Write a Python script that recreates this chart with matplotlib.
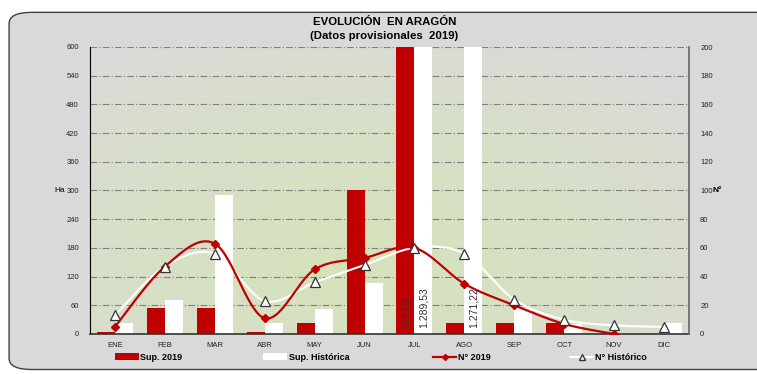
import numpy as np
import matplotlib
matplotlib.use("Agg")
import matplotlib.pyplot as plt
from matplotlib.patches import FancyBboxPatch, Patch
from matplotlib.lines import Line2D

plt.rcParams["font.family"] = ["Liberation Sans", "DejaVu Sans"]

months = ["ENE", "FEB", "MAR", "ABR", "MAY", "JUN", "JUL", "AGO", "SEP", "OCT", "NOV", "DIC"]
sup_2019 = [4, 54, 54, 4, 22, 300, 790.03, 22, 24, 22, 0, 0]
sup_hist = [22, 72, 290, 22, 52, 107, 1289.53, 1271.22, 55, 20, 3, 22]
n_2019 = [5, 47, 63, 11, 45, 53, 60, 35, 20, 7, 0]
n_hist = [13, 47, 56, 23, 36, 48, 60, 56, 24, 10, 6, 5]
bar_labels = {6: ["790,03", "1.289,53"], 7: [None, "1.271,22"]}

RED = "#c00000"


def smooth(x, y, n=30):
    # Excel-like smoothed line (Catmull-Rom through the points)
    x = np.asarray(x, float)
    y = np.asarray(y, float)
    px = np.concatenate([[x[0]], x, [x[-1]]])
    py = np.concatenate([[y[0]], y, [y[-1]]])
    xs, ys = [], []
    t = np.linspace(0, 1, n)
    for i in range(1, len(px) - 2):
        p0, p1, p2, p3 = (np.array([px[j], py[j]]) for j in (i - 1, i, i + 1, i + 2))
        c1 = p1 + (p2 - p0) / 6
        c2 = p2 - (p3 - p1) / 6
        pts = ((1 - t) ** 3)[:, None] * p1 + (3 * (1 - t) ** 2 * t)[:, None] * c1 \
            + (3 * (1 - t) * t ** 2)[:, None] * c2 + (t ** 3)[:, None] * p2
        xs.append(pts[:, 0])
        ys.append(pts[:, 1])
    return np.concatenate(xs), np.concatenate(ys)


fig = plt.figure(figsize=(7.57, 3.74), dpi=100)
fig.patch.set_facecolor("white")
frame = FancyBboxPatch((0.012, 0.012), 1.2, 0.955, boxstyle="round,pad=0,rounding_size=0.03",
                       transform=fig.transFigure, facecolor="#d9d9d9", edgecolor="#404040",
                       linewidth=1.0, zorder=-10)
fig.patches.append(frame)

ax = fig.add_axes([90 / 757, 1 - 334 / 374, 599 / 757, 287 / 374])
ax.set_facecolor("none")

# radial-ish gradient background
gx, gy = np.meshgrid(np.linspace(0, 1, 300), np.linspace(0, 1, 150))
d = np.sqrt(((gx - 0.45) / 0.75) ** 2 + ((gy - 0.25) / 0.9) ** 2)
w = np.clip(1 - d, 0, 1) ** 0.8
green = np.array([213, 227, 186]) / 255
gray = np.array([218, 218, 218]) / 255
img = gray[None, None, :] * (1 - w[..., None]) + green[None, None, :] * w[..., None]
ax.imshow(img, extent=[0, 1, 0, 1], transform=ax.transAxes, origin="lower",
          aspect="auto", zorder=-5)

x = np.arange(len(months))
bw = 0.36
ax.bar(x - bw / 2, sup_2019, bw, color=RED, zorder=2)
ax.bar(x + bw / 2, sup_hist, bw, color="white", zorder=2)
ax.set_xlim(-0.5, 11.5)
ax.set_ylim(0, 600)
ax.set_yticks(np.arange(0, 601, 60))
ax.set_xticks(x)
ax.set_xticklabels(months)
ax.grid(axis="y", color="#808080", linestyle=(0, (6, 2, 1, 2)), linewidth=0.8, zorder=0)
ax.set_axisbelow(True)
ax.tick_params(axis="both", length=0, labelsize=5.5, colors="#222222")
ax.tick_params(axis="x", pad=6)
ax.tick_params(axis="y", pad=8)
for s in ["top", "right"]:
    ax.spines[s].set_visible(False)
ax.spines["left"].set_color("black")
ax.spines["bottom"].set_color("#333333")
ax.spines["bottom"].set_linewidth(1.2)
ax.text(-0.042, 300, "Ha", transform=ax.get_yaxis_transform(), fontsize=6,
        ha="right", va="center")

for i, labs in bar_labels.items():
    for j, lab in enumerate(labs):
        if lab is None:
            continue
        xo = i - bw / 2 if j == 0 else i + bw / 2
        ax.text(xo, 12, lab, rotation=90, ha="center", va="bottom", fontsize=7.5,
                color="#333333", zorder=3)

ax2 = ax.twinx()
ax2.set_ylim(0, 200)
ax2.set_yticks(np.arange(0, 201, 20))
ax2.tick_params(axis="y", length=0, labelsize=5.5, colors="#222222", pad=8)
for s in ["top", "left", "bottom"]:
    ax2.spines[s].set_visible(False)
ax2.spines["right"].set_color("#666666")
ax2.spines["right"].set_linewidth(1.2)
ax2.text(1.04, 100, "N°", transform=ax2.get_yaxis_transform(), fontsize=6,
         fontweight="bold", ha="left", va="center")

hx, hy = smooth(x, n_hist)
ax2.plot(hx, hy, color="white", linewidth=1.5, zorder=3)
rx, ry = smooth(x[:len(n_2019)], n_2019)
ax2.plot(rx, ry, color=RED, linewidth=1.6, zorder=4)
ax2.plot(x[:len(n_2019)], n_2019, linestyle="none", marker="D", markersize=4,
         color=RED, zorder=5)
ax2.plot(x, n_hist, linestyle="none", marker="^", markersize=6.5, markerfacecolor="white",
         markeredgecolor="#333333", markeredgewidth=0.9, zorder=6)

fig.text(0.508, 0.94, "EVOLUCIÓN  EN ARAGÓN", ha="center", va="center",
         fontsize=8.2, fontweight="bold")
fig.text(0.508, 0.903, "(Datos provisionales  2019)", ha="center", va="center",
         fontsize=8.2, fontweight="bold")

legend_items = [
    (Patch(facecolor=RED), "Sup. 2019", 0.152),
    (Patch(facecolor="white"), "Sup. Histórica", 0.348),
    (Line2D([], [], color=RED, linewidth=1.6, marker="D", markersize=3), "N° 2019", 0.572),
    (Line2D([], [], color="white", linewidth=1.5, marker="^", markersize=4,
            markerfacecolor="white", markeredgecolor="#333333"), "N° Histórico", 0.753),
]
for h, lab, xpos in legend_items:
    fig.legend([h], [lab], loc="center left", bbox_to_anchor=(xpos, 0.045), frameon=False,
               prop={"size": 6.5, "weight": "bold"}, handlelength=2.6, handletextpad=0.2,
               borderaxespad=0, borderpad=0)

fig.savefig("out.png", dpi=100)
